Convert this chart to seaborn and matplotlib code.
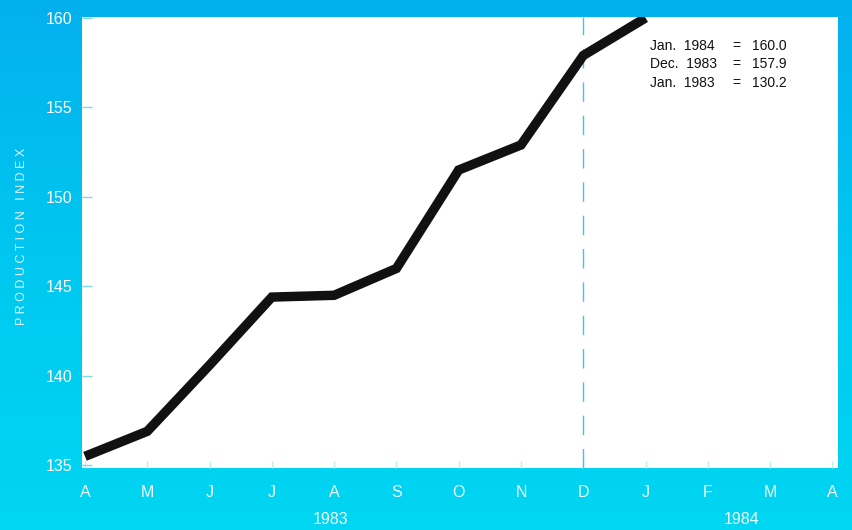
import numpy as np
import pandas as pd
import matplotlib
matplotlib.use("Agg")
import matplotlib.pyplot as plt
import matplotlib.transforms as mtransforms
from matplotlib.colors import LinearSegmentedColormap
import seaborn as sns

# ---- data ----
month_labels = ["A", "M", "J", "J", "A", "S", "O", "N", "D", "J", "F", "M", "A"]
month_pos = list(range(len(month_labels)))
index_values = [135.5, 136.9, 140.6, 144.4, 144.5, 146.0, 151.5, 152.9, 157.9, 160.0]
y_ticks = [135, 140, 145, 150, 155, 160]
year_labels = ["1983", "1984"]
year_label_pos = [3.95, 10.55]
note_names = ["Jan.  1984", "Dec.  1983", "Jan.  1983"]
note_values = ["160.0", "157.9", "130.2"]
dec_marker = 8

df = pd.DataFrame({"month": month_pos[:len(index_values)], "index": index_values})

sns.set_theme(style="white")
plt.rcParams["font.family"] = ["Liberation Sans", "DejaVu Sans"]

W, H = 852, 530
fig = plt.figure(figsize=(W / 100, H / 100), dpi=100)

# background gradient
bg = fig.add_axes([0, 0, 1, 1], zorder=-10)
grad = np.linspace(0, 1, 256).reshape(-1, 1)
cmap = LinearSegmentedColormap.from_list("bg", ["#04B0EE", "#00C8F0", "#00D6F2"])
bg.imshow(grad, aspect="auto", cmap=cmap, extent=[0, 1, 0, 1], origin="upper")
bg.set_axis_off()

ax = fig.add_axes([82 / W, 1 - 468 / H, (838 - 82) / W, (468 - 17) / H])
ax.set_facecolor("white")

sns.lineplot(data=df, x="month", y="index", ax=ax, color="#111111",
             linewidth=6.8, solid_capstyle="butt", solid_joinstyle="miter",
             legend=False, zorder=3)

ax.axvline(dec_marker, color="#45C3E6", linewidth=1.0,
           dashes=(14, 10), zorder=2)

ax.set_xlim(-0.048, 12.09)
ax.set_ylim(134.85, 160.05)
for s in ax.spines.values():
    s.set_visible(False)

ax.set_yticks(y_ticks)
ax.set_yticklabels([str(v) for v in y_ticks])
ax.set_xticks(month_pos)
ax.set_xticklabels(month_labels)
ax.tick_params(axis="y", direction="in", length=7, width=1, color="#7FD8EE",
               labelcolor="white", labelsize=11.5, pad=7, left=True)
ax.tick_params(axis="x", direction="in", length=5, width=1, color="#BCEAF5",
               labelcolor="#F2FBFE", labelsize=11.5, pad=12, bottom=True)
for lbl in ax.get_xticklabels():
    lbl.set_fontstretch("condensed")
ax.set_xlabel("")
ax.set_ylabel("")

fig.text(22 / W, 1 - 236 / H, "P R O D U C T I O N   I N D E X", rotation=90,
         color="#DDF5FB", fontsize=9, ha="center", va="center")

trans = mtransforms.blended_transform_factory(ax.transData, fig.transFigure)
for lab, xp in zip(year_labels, year_label_pos):
    ax.text(xp, 1 - 520 / H, lab, transform=trans, ha="center", va="center",
            color="#F2FBFE", fontsize=11.5)

# annotation block
for i, (nm, val) in enumerate(zip(note_names, note_values)):
    yy = 1 - (46 + i * 18.5) / H
    fig.text(650 / W, yy, nm, ha="left", va="center", fontsize=10, color="#111111")
    fig.text(736 / W, yy, "=", ha="center", va="center", fontsize=10, color="#111111")
    fig.text(752 / W, yy, val, ha="left", va="center", fontsize=10, color="#111111")

fig.savefig("out.png", dpi=100)
